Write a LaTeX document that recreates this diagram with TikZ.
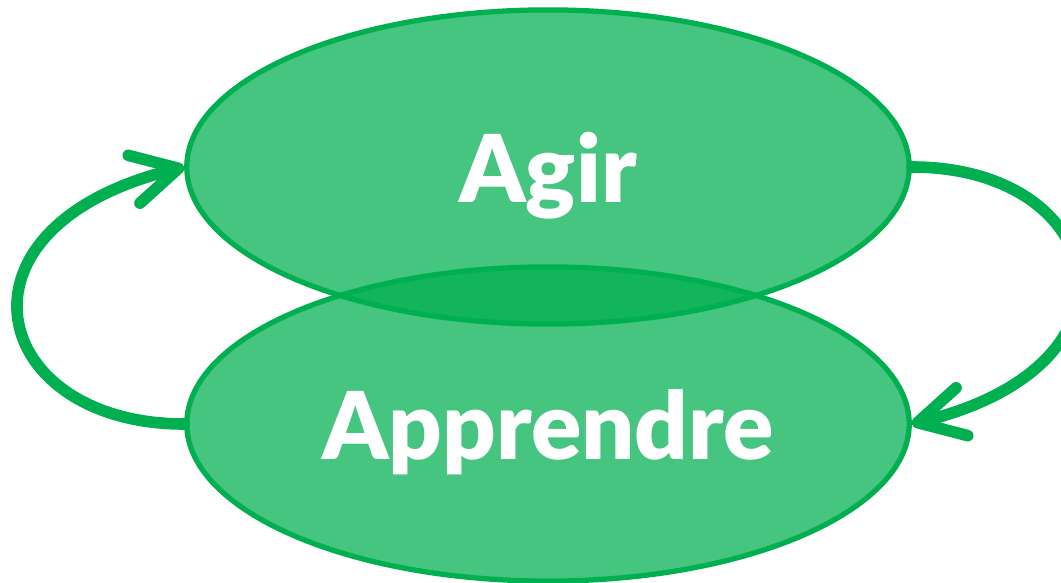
\documentclass[tikz,border=0pt]{standalone}
\usepackage{fontspec}
\setmainfont{Lato}[BoldFont={Lato Black}]
\usetikzlibrary{shapes.geometric,arrows.meta,bending}
\definecolor{loopgreen}{HTML}{00B050}

\begin{document}
\begin{tikzpicture}[x=0.01cm, y=0.01cm,
    phase/.style={ellipse, draw=loopgreen, line width=1.5pt, fill=loopgreen,
        fill opacity=0.73, text opacity=1, text=white, inner sep=0pt,
        minimum width=7.22cm, minimum height=3.14cm, text depth=0pt,
        font=\fontsize{26.6}{30}\selectfont\bfseries},
    loop/.style={draw=loopgreen, line width=3.3pt, line cap=round, line join=round,
        -{Straight Barb[length=13pt, width=14pt, round, quick]}}]
    \useasboundingbox[fill=white] (0, 0) rectangle (1061, 582);

    % Draw the two phases
    \node[phase] (bot) at (548, 158) {Apprendre};
    \node[phase] (top) at (548, 415) {Agir};

    % Draw the loops
    \draw[loop] (bot.west) .. controls +(-195, 0) and +(-245, -60) .. (top.west);
    \draw[loop] (top.east) .. controls +(195, 0) and +(245, 60) .. (bot.east);
\end{tikzpicture}
\end{document}
